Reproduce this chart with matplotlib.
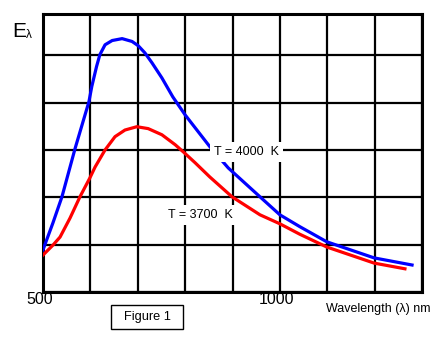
import matplotlib.pyplot as plt
from matplotlib.patches import Rectangle

plt.rcParams['font.family'] = ['Liberation Sans', 'DejaVu Sans']

# wavelength (nm) and relative spectral emittance (grid units)
wl_4000 = [500, 521, 540, 568, 597, 603, 613, 620, 631, 646, 667, 688, 701, 715, 730, 751, 774,
           800, 852, 891, 958, 1000, 1042, 1099, 1199, 1279]
e_4000 = [0.89, 1.46, 2.01, 3.04, 4.02, 4.34, 4.76, 5.01, 5.22, 5.31, 5.35, 5.29, 5.20, 5.05, 4.84, 4.52, 4.12,
          3.74, 3.07, 2.62, 2.01, 1.63, 1.38, 1.06, 0.72, 0.57]

wl_3700 = [500, 521, 536, 557, 578, 599, 610, 631, 652, 673, 698, 722, 751, 779, 796, 821,
           852, 899, 958, 1000, 1042, 1099, 1199, 1264]
e_3700 = [0.78, 0.99, 1.16, 1.56, 2.01, 2.41, 2.64, 3.00, 3.28, 3.42, 3.49, 3.45, 3.32, 3.11, 2.96, 2.73,
          2.43, 2.01, 1.63, 1.44, 1.22, 0.95, 0.61, 0.49]

W, H = 447, 343
fig = plt.figure(figsize=(W / 100, H / 100), dpi=100)
ax = fig.add_axes([43 / W, 1 - 292 / H, (422 - 43) / W, (292 - 14) / H])

ax.plot(wl_4000, e_4000, color='#0000ff', lw=2.3, zorder=3, solid_joinstyle='round')
ax.plot(wl_3700, e_3700, color='#ff0000', lw=2.3, zorder=3, solid_joinstyle='round')

ax.set_xlim(500, 1300)
ax.set_ylim(0, 5.87)
ax.set_xticks(range(500, 1301, 100))
ax.set_yticks(range(0, 6))
ax.tick_params(length=0, labelbottom=False, labelleft=False)
ax.grid(True, color='black', lw=1.6, zorder=1)
ax.set_axisbelow(True)
for s in ax.spines.values():
    s.set_linewidth(2.2)

ax.text(861, 2.96, 'T = 4000  K', fontsize=9, ha='left', va='center', zorder=4,
        bbox=dict(facecolor='white', edgecolor='none', pad=3))
ax.text(764, 1.63, 'T = 3700  K', fontsize=9, ha='left', va='center', zorder=4,
        bbox=dict(facecolor='white', edgecolor='none', pad=3))

fig.text(40 / W, 1 - 300 / H, '500', fontsize=11.5, ha='center', va='center')
fig.text(276 / W, 1 - 300 / H, '1000', fontsize=11.5, ha='center', va='center')
fig.text(326 / W, 1 - 309 / H, 'Wavelength (λ) nm', fontsize=9, ha='left', va='center')

fig.patches.append(Rectangle((111 / W, 1 - 329 / H), 72 / W, 24 / H, transform=fig.transFigure,
                             facecolor='white', edgecolor='black', lw=1))
fig.text(147 / W, 1 - 317 / H, 'Figure 1', fontsize=9.2, ha='center', va='center')

fig.text(12 / W, 1 - 37 / H, 'E', fontsize=15, ha='left', va='baseline')
fig.text(26 / W, 1 - 38 / H, 'λ', fontsize=8.5, ha='left', va='baseline')

fig.savefig('out.png', dpi=100, facecolor='white')
